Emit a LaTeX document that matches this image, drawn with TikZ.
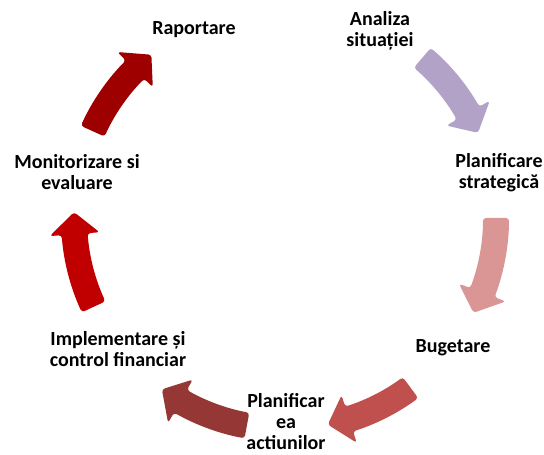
\documentclass[tikz,border=0pt]{standalone}
\usepackage{fontspec}
\setmainfont{Carlito}
\usetikzlibrary{positioning}
\definecolor{arrPurple}{HTML}{B3A2C7}
\definecolor{arrPink}{HTML}{D99694}
\definecolor{arrCoral}{HTML}{C0504D}
\definecolor{arrBrown}{HTML}{953735}
\definecolor{arrRed}{HTML}{C00000}
\definecolor{arrDark}{HTML}{9E0000}
\tikzset{
    pics/cycArrow/.style n args={3}{
        code={
		\fill[#1, rounded corners=3pt] (#2:224) arc[start angle=#2, end angle=#3+6, radius=224]
			-- (#3+6:236) -- (#3:211) -- (#3+6:186) -- (#3+6:198)
			arc[start angle=#3+6, end angle=#2, radius=198] -- cycle;
        }
    }
}
\tikzset{
    stage/.style={font=\bfseries\fontsize{20}{21}\selectfont, align=center, inner sep=0pt}
}

\begin{document}
\begin{tikzpicture}[x=1pt,y=1pt]
			\useasboundingbox (0,0) rectangle (544,455);
			\pic at(285,237) {cycArrow={arrPurple}{49.4}{23.8}};
			\pic at(285,237) {cycArrow={arrPink}{0}{-26.7}};
			\pic at(285,237) {cycArrow={arrCoral}{-53.5}{-78.3}};
			\pic at(285,237) {cycArrow={arrBrown}{-100.4}{-125.7}};
			\pic at(285,237) {cycArrow={arrRed}{204.9}{178.4}};
			\pic at(285,237) {cycArrow={arrDark}{155.7}{129.3}};
			\node[stage] (raport) at(194,425) {Raportare};
			\node[stage] (analiza) at(380,424) {Analiza\\situației};
			\node[stage] (strategie) at(499,282) {Planificare\\strategică};
			\node[stage] (buget) at(453,107) {Bugetare};
			\node[stage] (actiuni) at(286,33) {Planificar\\ea\\actiunilor};
			\node[stage] (implement) at(118,106) {Implementare și\\control financiar};
			\node[stage] (monitor) at(77,283) {Monitorizare si\\evaluare};
\end{tikzpicture}
\end{document}
